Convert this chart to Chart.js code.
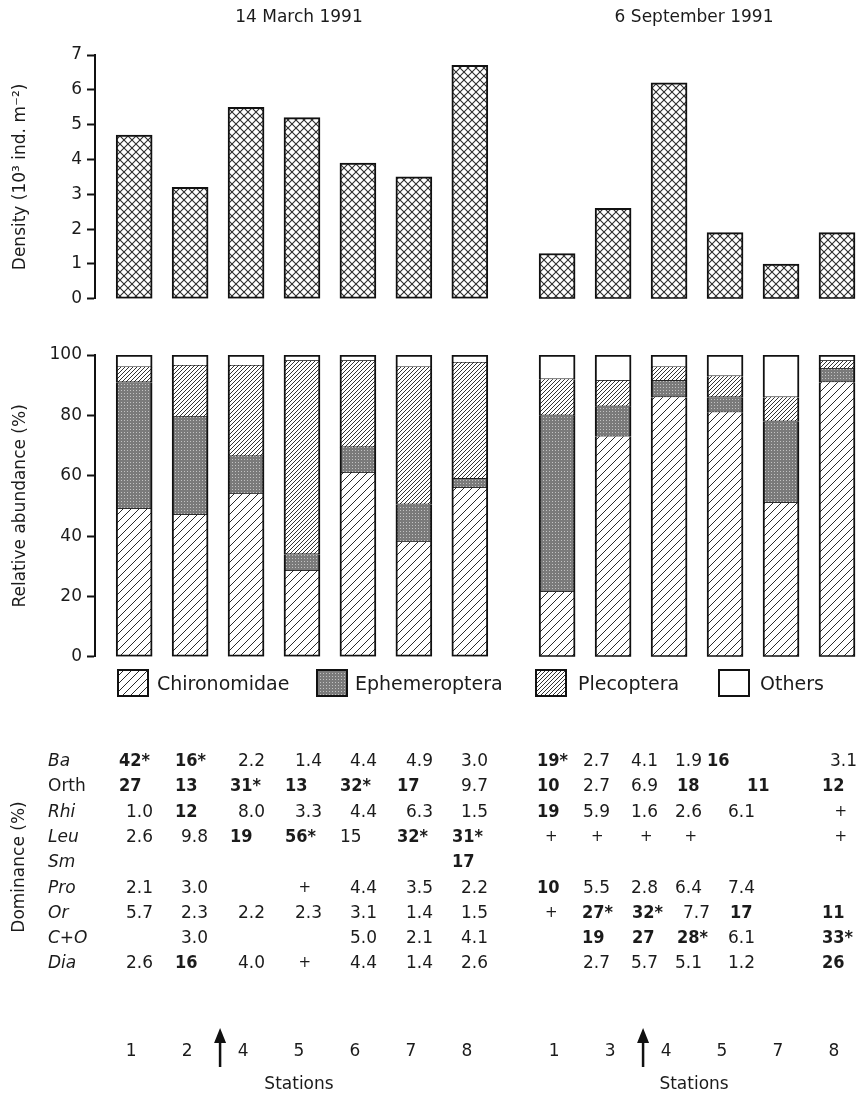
<!DOCTYPE html>
<html>
<head>
<meta charset="utf-8">
<title>Macroinvertebrate density and relative abundance, 1991</title>
<script src="https://cdn.jsdelivr.net/npm/chart.js@4.4.1/dist/chart.umd.min.js"></script>
<style>
  html, body { margin: 0; padding: 0; background: #fff; }
  #page { position: relative; width: 858px; height: 1097px; overflow: hidden;
          font-family: "DejaVu Sans", sans-serif; color: #1b1b1b; }
  #page canvas { position: absolute; }
  .txt { position: absolute; white-space: nowrap; font-size: 17px; line-height: 20px; }
  .ctr { transform: translateX(-50%); }
  .rot { transform: translate(-50%, -50%) rotate(-90deg); }
  .taxon { font-style: italic; }
  .bold { font-family: "Liberation Sans Narrow", "DejaVu Sans Condensed", "Liberation Sans", sans-serif;
          font-weight: bold; font-size: 18px; }
  .plus { font-size: 15px; }
  .leg { font-size: 19px; }
</style>
</head>
<body>
<div id="page">
  <canvas id="densMar" width="500" height="314" style="left:0;top:0"></canvas>
  <canvas id="densSep" width="358" height="314" style="left:500px;top:0"></canvas>
  <canvas id="relMar" width="500" height="352" style="left:0;top:320px"></canvas>
  <canvas id="relSep" width="358" height="352" style="left:500px;top:320px"></canvas>
  <svg id="arrows" width="858" height="1097" style="position:absolute;left:0;top:0"></svg>
</div>
<script>
// stations sampled on each date
const stationsMar = ['1', '2', '4', '5', '6', '7', '8'];
const stationsSep = ['1', '3', '4', '5', '7', '8'];

// total density (10^3 ind. m^-2)
const densityMar = [4.7, 3.2, 5.5, 5.2, 3.9, 3.5, 6.7];
const densitySep = [1.3, 2.6, 6.2, 1.9, 1.0, 1.9];

// relative abundance (%), stacked from the bottom
const groups = ['Chironomidae', 'Ephemeroptera', 'Plecoptera', 'Others'];
const chiroMar  = [49, 47, 54, 28.5, 61, 38, 56];
const ephemMar  = [42, 32.5, 12.5, 5.5, 8.5, 12.5, 3];
const plecoMar  = [5, 17, 30, 64, 28.5, 45.5, 38.5];
const othersMar = [4, 3.5, 3.5, 2, 2, 4, 2.5];
const chiroSep  = [21.5, 73, 86, 81, 51, 91];
const ephemSep  = [58.5, 10, 5.5, 5, 27, 4.5];
const plecoSep  = [12, 8.5, 4.5, 7, 8, 2.5];
const othersSep = [8, 8.5, 4, 7, 14, 2];

// dominance (%) table, one row per taxon
const taxa = ['Ba', 'Orth', 'Rhi', 'Leu', 'Sm', 'Pro', 'Or', 'C+O', 'Dia'];
const marBa   = ['42*', '16*', '2.2', '1.4', '4.4', '4.9', '3.0'];
const marOrth = ['27', '13', '31*', '13', '32*', '17', '9.7'];
const marRhi  = ['1.0', '12', '8.0', '3.3', '4.4', '6.3', '1.5'];
const marLeu  = ['2.6', '9.8', '19', '56*', '15', '32*', '31*'];
const marSm   = ['', '', '', '', '', '', '17'];
const marPro  = ['2.1', '3.0', '', '+', '4.4', '3.5', '2.2'];
const marOr   = ['5.7', '2.3', '2.2', '2.3', '3.1', '1.4', '1.5'];
const marCO   = ['', '3.0', '', '', '5.0', '2.1', '4.1'];
const marDia  = ['2.6', '16', '4.0', '+', '4.4', '1.4', '2.6'];
const sepBa   = ['19*', '2.7', '4.1', '1.9', '16', '3.1'];
const sepOrth = ['10', '2.7', '6.9', '18', '11', '12'];
const sepRhi  = ['19', '5.9', '1.6', '2.6', '6.1', '+'];
const sepLeu  = ['+', '+', '+', '+', '', '+'];
const sepSm   = ['', '', '', '', '', ''];
const sepPro  = ['10', '5.5', '2.8', '6.4', '7.4', ''];
const sepOr   = ['+', '27*', '32*', '7.7', '17', '11'];
const sepCO   = ['', '19', '27', '28*', '6.1', '33*'];
const sepDia  = ['', '2.7', '5.7', '5.1', '1.2', '26'];

// ---- layout ----
const FONT = '"DejaVu Sans", sans-serif';
const INK = '#1b1b1b';
const panels = {
  mar: { left: 0, xMin: 0.3, xMax: 7.45, padRight: 5, axis: true },
  sep: { left: 500, xMin: -0.02, xMax: 6.375, padRight: 0, axis: false }
};
const tableRow0 = 760, tableRowGap = 25.3, taxonX = 48;
const colLeft  = { mar: [119, 175, 230, 285, 340, 397, 452], sep: [537, 582, 632, 677, 730, 822] };
const colRight = { mar: [153, 208, 265, 322, 377, 433, 488], sep: [563, 610, 658, 702, 755, 857] };
const cellNudge = { mar: {}, sep: { '0,4': -23, '1,4': 17, '6,3': 8 } };
const plainCells = { mar: ['3,4'], sep: [] };
const uprightTaxa = ['Orth'];

const page = document.getElementById('page');

function tile(size, paint) {
  const c = document.createElement('canvas');
  c.width = c.height = size;
  const g = c.getContext('2d');
  g.fillStyle = '#fff';
  g.fillRect(0, 0, size, size);
  paint(g, size);
  return g.createPattern(c, 'repeat');
}
function diag(g, s, back) {
  g.beginPath();
  for (let k = -1; k <= 1; k++) {
    if (back) { g.moveTo(k * s, 0); g.lineTo(k * s + s, s); }
    else { g.moveTo(k * s, s); g.lineTo(k * s + s, 0); }
  }
  g.stroke();
}
const crossFill = tile(8, (g, s) => { g.strokeStyle = '#2e2e2e'; g.lineWidth = 1.1; diag(g, s, false); diag(g, s, true); });
const chiroFill = tile(8, (g, s) => { g.strokeStyle = '#2a2a2a'; g.lineWidth = 1; diag(g, s, false); });
const ephemFill = tile(3, (g) => { g.fillStyle = '#7a7a7a'; g.fillRect(0, 0, 3, 3); g.fillStyle = '#c2c2c2'; g.fillRect(1, 1, 1, 1); });
const plecoFill = tile(4, (g, s) => { g.strokeStyle = '#333'; g.lineWidth = 1; diag(g, s, false); });
const groupFills = [chiroFill, ephemFill, plecoFill, '#ffffff'];
const groupBorders = [
  { left: 2, right: 2, bottom: 2, top: 0 },
  { left: 2, right: 2, bottom: 1, top: 0 },
  { left: 2, right: 2, bottom: 1, top: 0 },
  { left: 2, right: 2, bottom: 1, top: 2 }
];

// the September panels keep an invisible axis so both panels share the same vertical layout
function yScale(p, max, step, title) {
  const ink = p.axis ? INK : 'rgba(0,0,0,0)';
  return {
    display: true, stacked: true, min: 0, max: max,
    ticks: { stepSize: step, color: ink, font: { family: FONT, size: 17 }, padding: 5 },
    grid: { display: p.axis, drawOnChartArea: false, drawTicks: true, tickLength: 8, tickWidth: 2, tickColor: '#111' },
    border: { display: p.axis, width: 2, color: '#111' },
    title: { display: p.axis, text: title, color: INK, font: { family: FONT, size: 17 }, padding: { top: 10, bottom: 0 } },
    afterFit: s => { s.width = p.axis ? 95 : 0; }
  };
}
function baseOptions(p, padTop, padBottom, y) {
  return {
    responsive: false, animation: false, devicePixelRatio: 1,
    layout: { padding: { top: padTop, bottom: padBottom, left: 0, right: p.padRight } },
    plugins: { legend: { display: false }, tooltip: { enabled: false } },
    scales: {
      x: { type: 'linear', display: false, offset: false, stacked: true, min: p.xMin, max: p.xMax },
      y: y
    }
  };
}
const pts = vals => vals.map((v, i) => ({ x: i + 1, y: v }));

function densityChart(id, p, values) {
  return new Chart(document.getElementById(id), {
    type: 'bar',
    data: { datasets: [{ data: pts(values), backgroundColor: crossFill, borderColor: '#111',
      borderWidth: 2, borderSkipped: false, barThickness: 36 }] },
    options: baseOptions(p, 55, 9, yScale(p, 7, 1, 'Density (10\u00B3 ind. m\u207B\u00B2)'))
  });
}
function abundanceChart(id, p, series) {
  return new Chart(document.getElementById(id), {
    type: 'bar',
    data: { datasets: series.map((vals, k) => ({ label: groups[k], data: pts(vals),
      backgroundColor: groupFills[k], borderColor: '#111', borderWidth: groupBorders[k],
      borderSkipped: false, barThickness: 36 })) },
    options: baseOptions(p, 35, 13, yScale(p, 100, 20, 'Relative abundance (%)'))
  });
}

const dMar = densityChart('densMar', panels.mar, densityMar);
const dSep = densityChart('densSep', panels.sep, densitySep);
const rMar = abundanceChart('relMar', panels.mar, [chiroMar, ephemMar, plecoMar, othersMar]);
const rSep = abundanceChart('relSep', panels.sep, [chiroSep, ephemSep, plecoSep, othersSep]);

function text(str, x, y, cls, align) {
  const el = document.createElement('div');
  el.className = 'txt ' + (cls || '');
  el.textContent = str;
  el.style.top = (y - 10) + 'px';
  if (align === 'right') el.style.right = (858 - x) + 'px';
  else el.style.left = x + 'px';
  page.appendChild(el);
  return el;
}

// date titles, station labels and arrows follow the bar positions
const svg = document.getElementById('arrows');
function panelText(chart, p, stations, title) {
  const xs = stations.map((s, i) => p.left + chart.scales.x.getPixelForValue(i + 1));
  const mid = (xs[0] + xs[xs.length - 1]) / 2;
  text(title, mid - 3, 16, 'ctr');
  stations.forEach((s, i) => text(s, xs[i] - 3, 1050, 'ctr'));
  text('Stations', mid - 3, 1083, 'ctr');
  const ax = (xs[1] + xs[2]) / 2 + 2;
  svg.insertAdjacentHTML('beforeend',
    `<line x1="${ax}" y1="1067" x2="${ax}" y2="1040" stroke="#111" stroke-width="2.5"/>` +
    `<polygon points="${ax - 6},1043 ${ax + 6},1043 ${ax},1028" fill="#111"/>`);
}
panelText(rMar, panels.mar, stationsMar, '14 March 1991');
panelText(rSep, panels.sep, stationsSep, '6 September 1991');

// legend
const legendBox = [117, 316, 535, 718], legendText = [157, 355, 578, 760];
groups.forEach((g, k) => {
  const c = document.createElement('canvas');
  c.width = 32; c.height = 28;
  c.style.left = legendBox[k] + 'px'; c.style.top = '669px';
  const ctx = c.getContext('2d');
  ctx.fillStyle = groupFills[k];
  ctx.fillRect(0, 0, 32, 28);
  ctx.strokeStyle = '#111'; ctx.lineWidth = 2;
  ctx.strokeRect(1, 1, 30, 26);
  page.appendChild(c);
  text(g, legendText[k], 683, 'leg');
});

// dominance table
text('Dominance (%)', 18, 877, 'rot');
taxa.forEach((t, r) => text(t, taxonX, tableRow0 + r * tableRowGap, uprightTaxa.includes(t) ? '' : 'taxon'));
function table(key, rows) {
  rows.forEach((row, r) => row.forEach((cell, c) => {
    if (!cell) return;
    const y = tableRow0 + r * tableRowGap;
    const dx = cellNudge[key][r + ',' + c] || 0;
    const L = colLeft[key][c], R = colRight[key][c];
    if (cell === '+') text(cell, (L + R) / 2 - 5 + dx, y, 'plus');
    else if (cell.includes('.')) text(cell, R + dx, y, '', 'right');
    else text(cell, L + dx, y, plainCells[key].includes(r + ',' + c) ? '' : 'bold');
  }));
}
table('mar', [marBa, marOrth, marRhi, marLeu, marSm, marPro, marOr, marCO, marDia]);
table('sep', [sepBa, sepOrth, sepRhi, sepLeu, sepSm, sepPro, sepOr, sepCO, sepDia]);
</script>
</body>
</html>
